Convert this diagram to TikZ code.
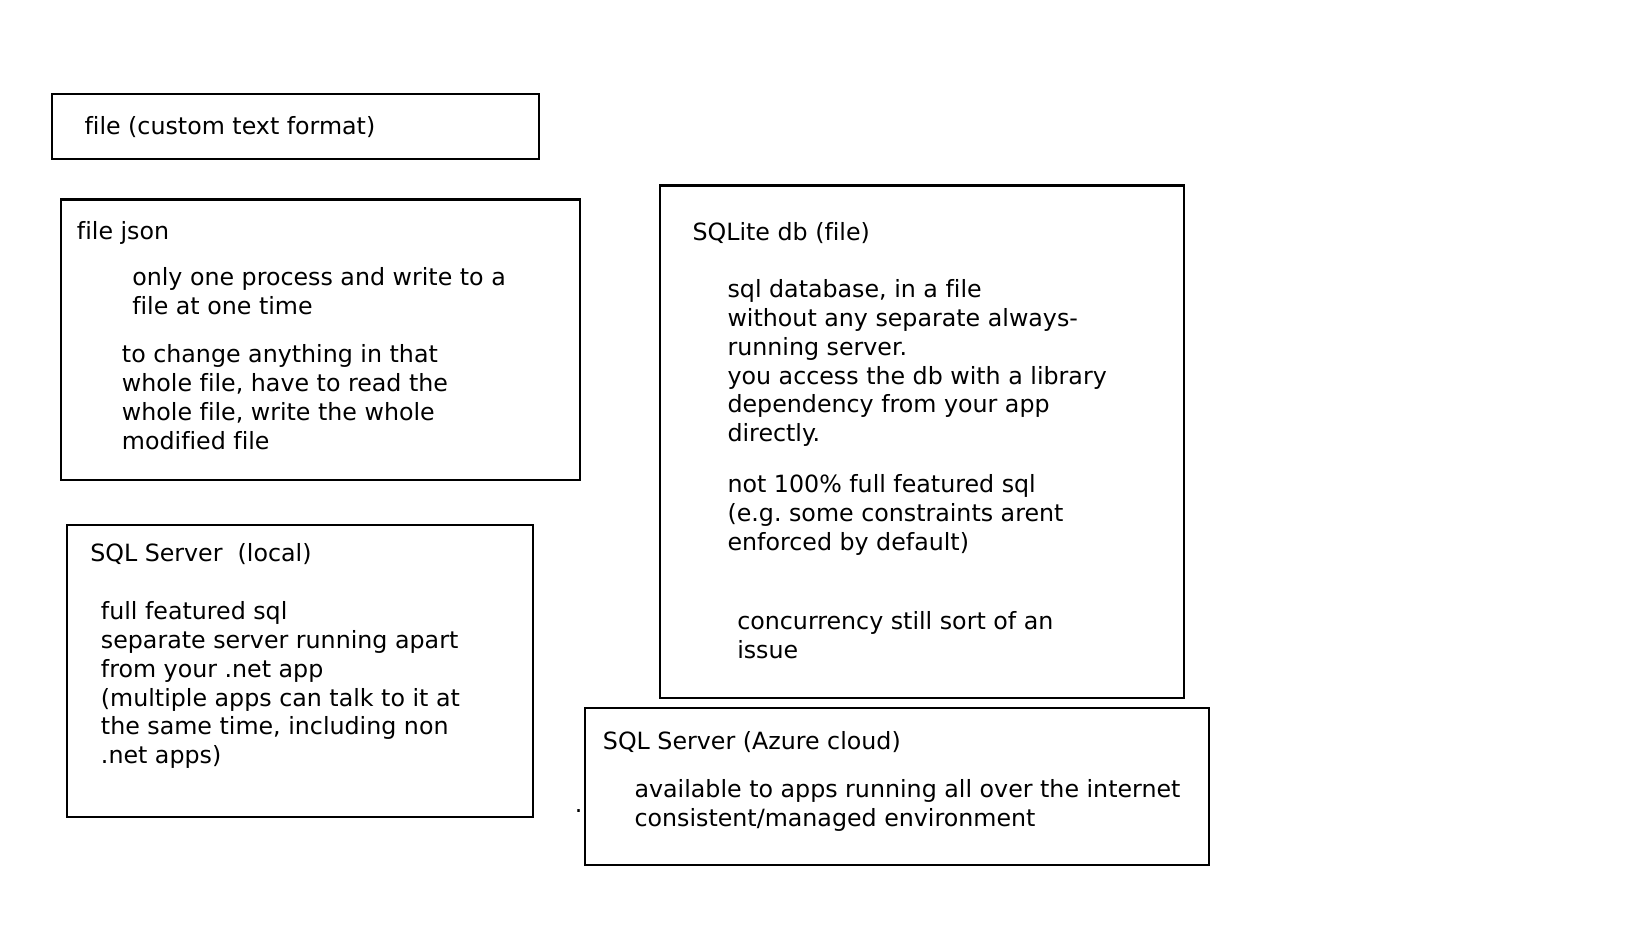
\documentclass[tikz,border=0pt]{standalone}
\usepackage{fontspec}
\setmainfont[Ligatures=NoCommon]{DejaVu Sans}
\begin{document}
\begin{tikzpicture}[x=0.75pt,y=-0.75pt,
  box/.style={draw=black, line width=1.6pt, anchor=north west, inner sep=0pt},
  txt/.style={anchor=base west, inner sep=0pt, font=\fontsize{17.8}{21.7}\selectfont}]
\useasboundingbox (0,0) rectangle (1648,927);
\fill[white] (0,0) rectangle (1648,927);
% boxes
\node[box, minimum width={487.3*0.75pt}, minimum height={65*0.75pt}] (b1) at (50.7,92.7) {};
\node[box, minimum width={519*0.75pt}, minimum height={280.5*0.75pt}] (b2) at (60,198.5) {};
\node[box, minimum width={466*0.75pt}, minimum height={291.7*0.75pt}] (b3) at (65.7,524) {};
\node[box, minimum width={524*0.75pt}, minimum height={512*0.75pt}] (b4) at (659.3,184.5) {};
\node[box, minimum width={623.7*0.75pt}, minimum height={157.6*0.75pt}] (b5) at (584,706.7) {};
% box 1
\node[txt] (t1) at (84.3,134.3) {file (custom text format)};
% box 2
\node[txt] (t2a) at (76.7,239.3) {file json};
\node[txt] (t2b) at (132,285.5) {only one process and write to a};
\node[txt] (t2c) at (132,314.4) {file at one time};
\node[txt] (t2d) at (121.7,362.5) {to change anything in that};
\node[txt] (t2e) at (121.7,391.4) {whole file, have to read the};
\node[txt] (t2f) at (121.7,420.3) {whole file, write the whole};
\node[txt] (t2g) at (121.7,449.2) {modified file};
% box 3
\node[txt] (t3a) at (90,561) {SQL Server\ \ (local)};
\node[txt] (t3b) at (100.7,619.3) {full featured sql};
\node[txt] (t3c) at (100.7,648.2) {separate server running apart};
\node[txt] (t3d) at (100.7,677.1) {from your .net app};
\node[txt] (t3e) at (100.7,706.0) {(multiple apps can talk to it at};
\node[txt] (t3f) at (100.7,734.9) {the same time, including non};
\node[txt] (t3g) at (100.7,763.8) {.net apps)};
% box 4
\node[txt] (t4a) at (692.3,241) {SQLite db (file)};
\node[txt] (t4b) at (727.3,297.3) {sql database, in a file};
\node[txt] (t4c) at (727.3,326.2) {without any separate always-};
\node[txt] (t4d) at (727.3,355.1) {running server.};
\node[txt] (t4e) at (727.3,384.0) {you access the db with a library};
\node[txt] (t4f) at (727.3,412.9) {dependency from your app};
\node[txt] (t4g) at (727.3,441.8) {directly.};
\node[txt] (t4h) at (727.3,492.5) {not 100\% full featured sql};
\node[txt] (t4i) at (727.3,521.4) {(e.g.\ some constraints arent};
\node[txt] (t4j) at (727.3,550.3) {enforced by default)};
\node[txt] (t4k) at (737,629.3) {concurrency still sort of an};
\node[txt] (t4l) at (737,658.2) {issue};
% box 5
\node[txt] (t5a) at (602.7,749.3) {SQL Server (Azure cloud)};
\node[txt] (t5b) at (634.3,797.3) {available to apps running all over the internet};
\node[txt] (t5c) at (634.3,826.2) {consistent/managed environment};
% stray dot
\node[txt] (dot) at (574.5,812) {.};
\end{tikzpicture}
\end{document}
